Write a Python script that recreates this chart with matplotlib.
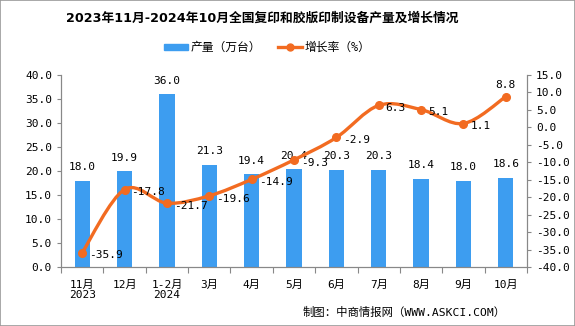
import numpy as np
import matplotlib
matplotlib.use("Agg")
import matplotlib.pyplot as plt
from matplotlib.path import Path
from matplotlib.patches import PathPatch, Rectangle

plt.rcParams['font.family'] = ['DejaVu Sans Mono', 'Noto Sans CJK SC']
plt.rcParams['axes.unicode_minus'] = False

# data
months = ["11月\n2023", "12月", "1-2月\n2024", "3月", "4月", "5月", "6月", "7月", "8月", "9月", "10月"]
output = [18.0, 19.9, 36.0, 21.3, 19.4, 20.4, 20.3, 20.3, 18.4, 18.0, 18.6]
growth = [-35.9, -17.8, -21.7, -19.6, -14.9, -9.3, -2.9, 6.3, 5.1, 1.1, 8.8]

BAR_C = '#3d9df0'
LINE_C = '#f26b21'
FS = 8

fig = plt.figure(figsize=(5.75, 3.26), dpi=100)
ax = fig.add_axes([61/575, 1-267/326, (527-61)/575, (267-75)/326])
ax2 = ax.twinx()

x = np.arange(len(months))
ax.bar(x, output, width=0.36, color=BAR_C, zorder=2)
for xi, v in zip(x, output):
    ax.annotate(f"{v:.1f}", (xi, v), xytext=(0, 6), textcoords='offset points',
                ha='center', va='bottom', fontsize=FS)

ax.set_xlim(-0.5, len(months) - 0.5)
ax.set_ylim(0, 40)
ax.set_yticks(np.arange(0, 40.1, 5))
ax.set_yticklabels([f"{t:.1f}" for t in np.arange(0, 40.1, 5)])
ax.set_xticks(np.arange(-0.5, len(months), 1))
ax.set_xticklabels([])
ax.set_xticks(x, minor=True)
ax.set_xticklabels(months, minor=True, linespacing=1.0)
ax.tick_params(axis='x', which='major', length=4, direction='out', color='#888888')
ax.tick_params(axis='x', which='minor', length=0, labelsize=FS, pad=9)
ax.tick_params(axis='y', length=3, labelsize=FS, color='#888888')

ax2.set_ylim(-40, 15)
ax2.set_yticks(np.arange(-40, 15.1, 5))
ax2.set_yticklabels([f"{t:.1f}" for t in np.arange(-40, 15.1, 5)])
ax2.tick_params(axis='y', length=3, labelsize=FS, color='#888888')

for a in (ax, ax2):
    a.spines['top'].set_visible(False)
    for s in ('left', 'right', 'bottom'):
        a.spines[s].set_color('#888888')
        a.spines[s].set_linewidth(0.8)

# smooth growth line (Catmull-Rom as bezier segments)
pts = np.column_stack([x, growth]).astype(float)
verts = [tuple(pts[0])]
codes = [Path.MOVETO]
for i in range(len(pts) - 1):
    p0 = pts[i - 1] if i > 0 else pts[i]
    p1 = pts[i]
    p2 = pts[i + 1]
    p3 = pts[i + 2] if i + 2 < len(pts) else pts[i + 1]
    c1 = p1 + (p2 - p0) / 6
    c2 = p2 - (p3 - p1) / 6
    verts += [tuple(c1), tuple(c2), tuple(p2)]
    codes += [Path.CURVE4] * 3
ax2.add_patch(PathPatch(Path(verts, codes), fill=False, edgecolor=LINE_C, lw=2.4, zorder=3))
ax2.plot(x, growth, 'o', color=LINE_C, ms=5.5, zorder=4)

for i, (xi, v) in enumerate(zip(x, growth)):
    if i == len(x) - 1:
        ax2.annotate(f"{v:.1f}", (xi, v), xytext=(0, 5), textcoords='offset points',
                     ha='center', va='bottom', fontsize=FS)
    else:
        ax2.annotate(f"{v:.1f}", (xi, v), xytext=(5, -2), textcoords='offset points',
                     ha='left', va='center', fontsize=FS)

# title and legend
fig.text(262/575, 1 - 18/326, "2023年11月-2024年10月全国复印和胶版印制设备产量及增长情况",
         ha='center', va='center', fontsize=9.2, fontweight='bold',
         family=['DejaVu Sans', 'Noto Sans CJK SC'])
fig.patches.append(Rectangle((164/575, 1-50/326), 24/575, 6/326, transform=fig.transFigure,
                             color=BAR_C))
fig.text(191/575, 1-47/326, "产量（万台）", ha='left', va='center', fontsize=8.5)
fig.lines.append(plt.Line2D([278/575, 302/575], [1-47/326, 1-47/326], transform=fig.transFigure,
                            color=LINE_C, lw=2.4))
fig.lines.append(plt.Line2D([290/575], [1-47/326], transform=fig.transFigure,
                            color=LINE_C, marker='o', ms=5))
fig.text(305/575, 1-47/326, "增长率（%）", ha='left', va='center', fontsize=8.5)

fig.text(506/575, 1-312/326, "制图：中商情报网（WWW.ASKCI.COM）", ha='right', va='center', fontsize=8.2)

fig.patches.append(Rectangle((0, 0), 1, 1, transform=fig.transFigure, fill=False,
                             edgecolor='#999999', lw=1.2))

fig.savefig("out.png", dpi=100)
